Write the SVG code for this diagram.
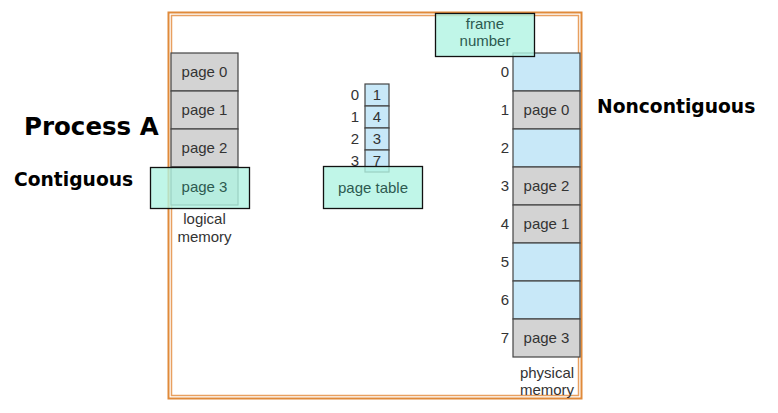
<svg xmlns="http://www.w3.org/2000/svg" width="778" height="413" viewBox="0 0 778 413">
<style>
.gray{fill:#d3d3d3;stroke:#444;stroke-width:1.2}
.blue{fill:#c8e8f8;stroke:#444;stroke-width:1.2}
.teal{fill:#b0f4e2;fill-opacity:0.8;stroke:#111;stroke-width:1.3}
.t{font-family:"Liberation Sans",Arial,sans-serif;font-size:15px;fill:#333}
.tl{font-family:"Liberation Sans",Arial,sans-serif;font-size:15px;fill:#2d5a50}
.b{font-family:"DejaVu Sans",Verdana,sans-serif;font-weight:bold;fill:#000}
.m{text-anchor:middle}
.e{text-anchor:end}
</style>
<rect width="778" height="413" fill="#fff"/>
<g id="frame">
<rect x="168.5" y="12.5" width="413" height="386" fill="none" stroke="#e08a3a" stroke-width="2"/>
<rect x="171.5" y="15.5" width="407" height="380" fill="none" stroke="#e8a060" stroke-width="1.5"/>
</g>
<g id="logical-memory">
<rect class="gray" x="171" y="53" width="67" height="38"/>
<rect class="gray" x="171" y="91" width="67" height="38"/>
<rect class="gray" x="171" y="129" width="67" height="38"/>
<rect class="gray" x="171" y="167" width="67" height="38"/>
<text class="t m" x="204.5" y="77">page 0</text>
<text class="t m" x="204.5" y="115">page 1</text>
<text class="t m" x="204.5" y="153">page 2</text>
<text class="t m" x="204.5" y="224">logical</text>
<text class="t m" x="204.5" y="242">memory</text>
</g>
<g id="page-table">
<rect class="blue" x="365" y="84" width="24" height="22"/>
<rect class="blue" x="365" y="106" width="24" height="22"/>
<rect class="blue" x="365" y="128" width="24" height="22"/>
<rect class="blue" x="365" y="150" width="24" height="22"/>
<text class="t m" x="377" y="100">1</text>
<text class="t m" x="377" y="122">4</text>
<text class="t m" x="377" y="144">3</text>
<text class="t m" x="377" y="166">7</text>
<text class="t e" x="359" y="100">0</text>
<text class="t e" x="359" y="122">1</text>
<text class="t e" x="359" y="144">2</text>
<text class="t e" x="359" y="166">3</text>
</g>
<g id="physical-memory">
<rect class="blue" x="513" y="53" width="67" height="38"/>
<rect class="gray" x="513" y="91" width="67" height="38"/>
<rect class="blue" x="513" y="129" width="67" height="38"/>
<rect class="gray" x="513" y="167" width="67" height="38"/>
<rect class="gray" x="513" y="205" width="67" height="38"/>
<rect class="blue" x="513" y="243" width="67" height="38"/>
<rect class="blue" x="513" y="281" width="67" height="38"/>
<rect class="gray" x="513" y="319" width="67" height="38"/>
<text class="t m" x="546.5" y="115">page 0</text>
<text class="t m" x="546.5" y="191">page 2</text>
<text class="t m" x="546.5" y="229">page 1</text>
<text class="t m" x="546.5" y="343">page 3</text>
<text class="t e" x="509" y="77">0</text>
<text class="t e" x="509" y="115">1</text>
<text class="t e" x="509" y="153">2</text>
<text class="t e" x="509" y="191">3</text>
<text class="t e" x="509" y="229">4</text>
<text class="t e" x="509" y="267">5</text>
<text class="t e" x="509" y="305">6</text>
<text class="t e" x="509" y="343">7</text>
<text class="t m" x="547" y="378">physical</text>
<text class="t m" x="547" y="395">memory</text>
</g>
<g id="contiguous-box">
<rect class="teal" x="150.5" y="167.5" width="99" height="41"/>
<text class="tl m" x="204.5" y="192">page 3</text>
</g>
<g id="page-table-box">
<rect class="teal" x="323.5" y="166.5" width="99" height="42"/>
<text class="tl m" x="373" y="193">page table</text>
</g>
<g id="frame-number-box">
<rect class="teal" x="435.5" y="13.5" width="99" height="43"/>
<text class="tl m" x="485" y="29">frame</text>
<text class="tl m" x="485" y="46">number</text>
</g>
<g id="labels">
<text class="b" x="24" y="135" font-size="24.5">Process A</text>
<text class="b" x="14" y="186" font-size="18.7">Contiguous</text>
<text class="b" x="597" y="113" font-size="18.7">Noncontiguous</text>
</g>
<g id="connectors"></g>
</svg>
